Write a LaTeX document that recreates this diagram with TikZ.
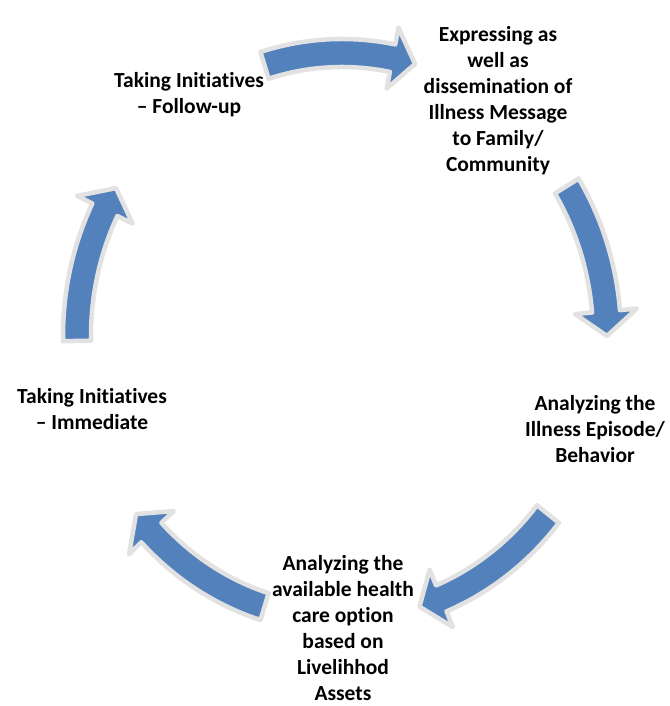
\documentclass[tikz,border=0pt]{standalone}
\usepackage{fontspec}
\setmainfont{Carlito}[Ligatures={NoCommon,TeX}]
\definecolor{arrowblue}{RGB}{83,129,187}
\definecolor{rimgray}{RGB}{226,226,226}
\tikzset{
  arrowshape/.style={fill=arrowblue, draw=rimgray, line width=4.5pt, line join=round},
  label/.style={align=center, font=\fontsize{21.5}{26}\selectfont\bfseries, text=black, inner sep=0pt}
}
\newcommand{\cycarrow}[2]{%
  \pgfmathsetmacro{\hb}{#2+5}%
  \path[arrowshape] (#1:279pt and 297pt)
    arc[start angle=#1, end angle=\hb, x radius=279pt, y radius=297pt]
    -- (\hb:296pt and 314pt) -- (#2:265pt and 283pt) -- (\hb:234pt and 252pt)
    -- (\hb:251pt and 269pt)
    arc[start angle=\hb, end angle=#1, x radius=251pt, y radius=269pt] -- cycle;%
}
\begin{document}
\begin{tikzpicture}[x=1pt,y=1pt]
\useasboundingbox (0,0) rectangle (669,706);
\fill[white] (0,0) rectangle (669,706);
\begin{scope}[shift={(342,370)}]
  \cycarrow{107}{74}
  \cycarrow{32}{0}
  \cycarrow{-39}{-73}
  \cycarrow{-107}{-141}
  \cycarrow{181}{148.5}
\end{scope}
\node[label] (expr) at (498,605) {Expressing as\\well as\\dissemination of\\Illness Message\\to Family/\\Community};
\node[label] (illness) at (595,277) {Analyzing the\\Illness Episode/\\Behavior};
\node[label] (avail) at (343,78) {Analyzing the\\available health\\care option\\based on\\Livelihhod\\Assets};
\node[label] (immediate) at (92,297) {Taking Initiatives\\– Immediate};
\node[label] (followup) at (189,611) {Taking Initiatives\\– Follow-up};
\end{tikzpicture}
\end{document}
